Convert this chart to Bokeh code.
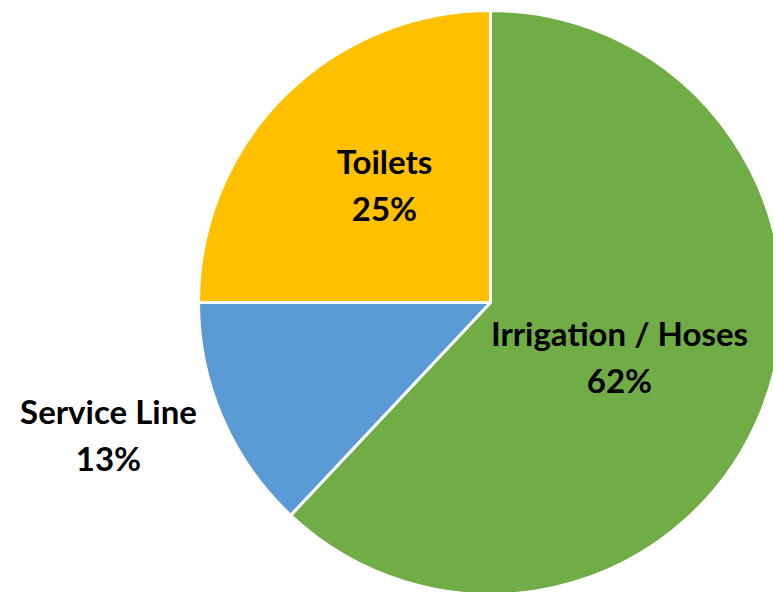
import numpy as np
from bokeh.plotting import figure
from bokeh.models import Range1d, ColumnDataSource
from bokeh.core.properties import value
from bokeh.embed import file_html
from bokeh.resources import INLINE

categories = ["Irrigation / Hoses", "Service Line", "Toilets"]
shares = [62, 13, 25]
colors = ["#70AD47", "#5B9BD5", "#FFC000"]

# layout (pixels)
W, H = 773, 592
cx, cy, R = 490, 302, 292
label_pos = {"Irrigation / Hoses": (619, 332), "Service Line": (108, 410), "Toilets": (384, 160)}

fr = np.array(shares, dtype=float) / sum(shares)
# clockwise from 12 o'clock
ends = np.pi / 2 - 2 * np.pi * np.concatenate([[0], np.cumsum(fr)[:-1]])
starts = ends - 2 * np.pi * fr

src = ColumnDataSource(dict(cat=categories, start=starts, end=ends, color=colors,
                            pct=[f"{s}%" for s in shares],
                            lx=[label_pos[c][0] for c in categories],
                            ly=[label_pos[c][1] for c in categories]))

p = figure(width=W, height=H, output_backend="svg", toolbar_location=None,
           x_range=Range1d(0, W), y_range=Range1d(H, 0), min_border=0)
p.axis.visible = False
p.grid.visible = False
p.outline_line_color = None
p.background_fill_color = "white"
p.border_fill_color = "white"

p.wedge(x=cx, y=cy, radius=R, start_angle="start", end_angle="end",
        start_angle_units="rad", end_angle_units="rad", direction="anticlock",
        fill_color="color", line_color="white", line_width=3, source=src)

common = dict(text_font=value("Lato"), text_font_style="bold", text_font_size="33px",
              text_align="center", text_baseline="middle", text_color="black", source=src)
p.text(x="lx", y="ly", text="cat", **common)
p.text(x="lx", y="ly", text="pct", y_offset=47, **common)

open("out.html", "w").write(file_html(p, INLINE))
